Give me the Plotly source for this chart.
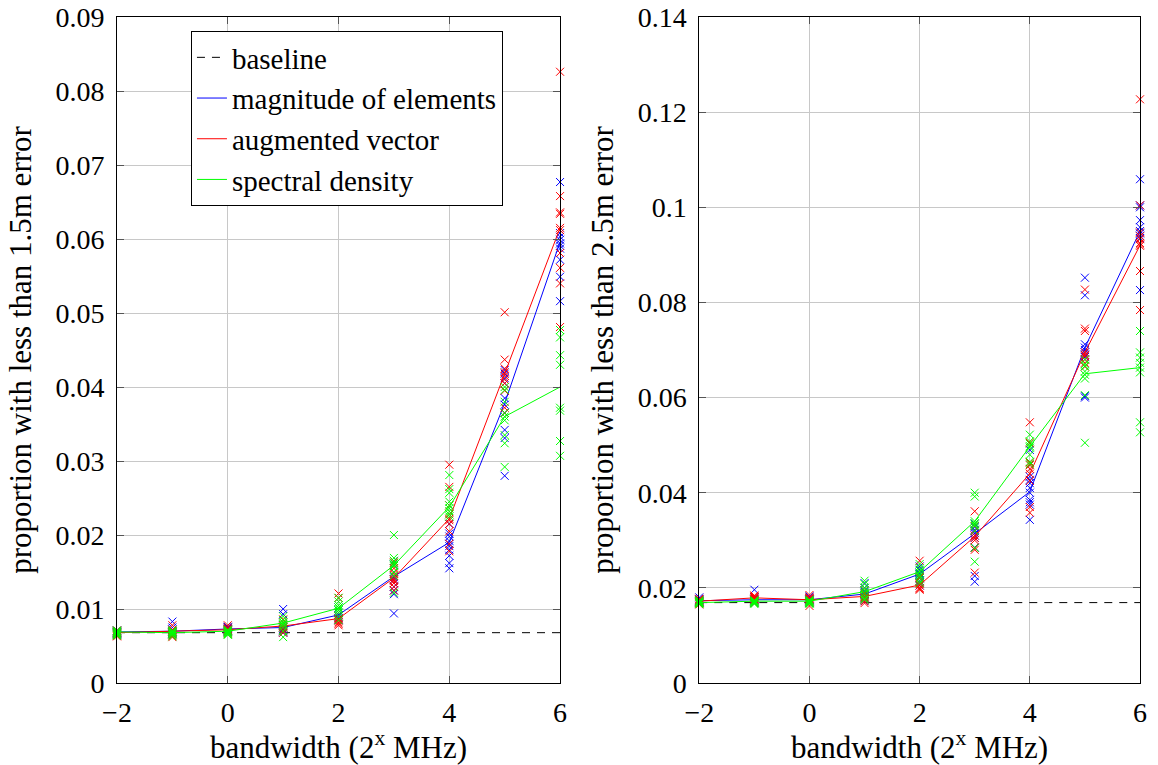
import plotly.graph_objects as go

# ---------------- data ----------------
X = [-2, -1, 0, 1, 2, 3, 4, 5, 6]

X_TICKS = [-2, 0, 2, 4, 6]
Y_TICKS_L = [0, 0.01, 0.02, 0.03, 0.04, 0.05, 0.06, 0.07, 0.08, 0.09]
Y_TICKS_R = [0, 0.02, 0.04, 0.06, 0.08, 0.1, 0.12, 0.14]

SERIES_NAMES = ["magnitude of elements", "augmented vector", "spectral density"]
BASELINE_NAME = "baseline"

BASE_L = 0.0068
BASE_R = 0.0169

# left panel (1.5 m error) - individual runs per bandwidth
L_BLUE_PTS = [
    [0.0068, 0.0066, 0.0070, 0.0067, 0.0069, 0.0068, 0.0065, 0.0071],
    [0.0083, 0.0075, 0.0070, 0.0068, 0.0066, 0.0072, 0.0069, 0.0067],
    [0.0074, 0.0072, 0.0070, 0.0075, 0.0071, 0.0073, 0.0069, 0.0076],
    [0.0100, 0.0093, 0.0075, 0.0072, 0.0070, 0.0068, 0.0073, 0.0071, 0.0078],
    [0.0102, 0.0098, 0.0095, 0.0090, 0.0088, 0.0092, 0.0086, 0.0085],
    [0.0165, 0.0160, 0.0150, 0.0143, 0.0140, 0.0135, 0.0130, 0.0125, 0.0120, 0.0094],
    [0.0215, 0.0202, 0.0198, 0.0192, 0.0188, 0.0185, 0.0180, 0.0172, 0.0162, 0.0155],
    [0.0423, 0.0418, 0.0412, 0.0405, 0.0385, 0.0376, 0.0365, 0.0342, 0.0331, 0.0280],
    [0.0677, 0.0608, 0.0603, 0.0599, 0.0594, 0.0591, 0.0587, 0.0572, 0.0549, 0.0516],
]
L_RED_PTS = [
    [0.0066, 0.0069, 0.0064, 0.0070, 0.0067, 0.0068, 0.0063, 0.0071],
    [0.0078, 0.0072, 0.0069, 0.0066, 0.0064, 0.0070, 0.0068, 0.0062],
    [0.0078, 0.0075, 0.0072, 0.0070, 0.0068, 0.0073, 0.0071, 0.0066],
    [0.0086, 0.0082, 0.0078, 0.0075, 0.0072, 0.0070, 0.0068, 0.0076],
    [0.0121, 0.0115, 0.0090, 0.0087, 0.0084, 0.0080, 0.0078, 0.0082, 0.0086],
    [0.0163, 0.0155, 0.0148, 0.0145, 0.0140, 0.0138, 0.0135, 0.0130, 0.0125],
    [0.0295, 0.0265, 0.0240, 0.0228, 0.0222, 0.0220, 0.0215, 0.0205, 0.0188, 0.0178],
    [0.0501, 0.0437, 0.0425, 0.0420, 0.0415, 0.0410, 0.0405, 0.0395, 0.0372, 0.0365],
    [0.0826, 0.0658, 0.0636, 0.0634, 0.0615, 0.0612, 0.0581, 0.0561, 0.0540, 0.0481],
]
L_GREEN_PTS = [
    [0.0069, 0.0067, 0.0070, 0.0065, 0.0068, 0.0066, 0.0071, 0.0064],
    [0.0071, 0.0069, 0.0067, 0.0065, 0.0068, 0.0070, 0.0066, 0.0063],
    [0.0070, 0.0068, 0.0066, 0.0071, 0.0069, 0.0067, 0.0065, 0.0072],
    [0.0090, 0.0085, 0.0082, 0.0080, 0.0078, 0.0075, 0.0070, 0.0062],
    [0.0115, 0.0110, 0.0105, 0.0102, 0.0100, 0.0098, 0.0095, 0.0090, 0.0085],
    [0.0200, 0.0169, 0.0165, 0.0162, 0.0160, 0.0158, 0.0150, 0.0145, 0.0122],
    [0.0281, 0.0262, 0.0257, 0.0245, 0.0240, 0.0236, 0.0232, 0.0228, 0.0225],
    [0.0400, 0.0396, 0.0380, 0.0365, 0.0360, 0.0355, 0.0335, 0.0324, 0.0292],
    [0.0477, 0.0467, 0.0443, 0.0430, 0.0372, 0.0368, 0.0327, 0.0307],
]
L_BLUE_MEAN = [0.0069, 0.0070, 0.0073, 0.0075, 0.0092, 0.0144, 0.0190, 0.0378, 0.0596]
L_RED_MEAN = [0.0068, 0.0070, 0.0072, 0.0077, 0.0087, 0.0142, 0.0222, 0.0418, 0.0615]
L_GREEN_MEAN = [0.0069, 0.0068, 0.0070, 0.0081, 0.0101, 0.0159, 0.0238, 0.0360, 0.0400]

# right panel (2.5 m error)
R_BLUE_PTS = [
    [0.0180, 0.0175, 0.0172, 0.0170, 0.0168, 0.0174, 0.0171, 0.0176],
    [0.0196, 0.0180, 0.0177, 0.0174, 0.0172, 0.0170, 0.0175, 0.0168],
    [0.0182, 0.0178, 0.0175, 0.0172, 0.0170, 0.0168, 0.0176, 0.0174],
    [0.0210, 0.0200, 0.0192, 0.0188, 0.0185, 0.0180, 0.0176, 0.0172, 0.0178],
    [0.0245, 0.0238, 0.0232, 0.0228, 0.0225, 0.0220, 0.0215, 0.0212, 0.0205, 0.0230],
    [0.0335, 0.0328, 0.0322, 0.0319, 0.0315, 0.0310, 0.0305, 0.0285, 0.0225, 0.0213],
    [0.0490, 0.0434, 0.0427, 0.0420, 0.0410, 0.0400, 0.0385, 0.0380, 0.0375, 0.0343],
    [0.0852, 0.0815, 0.0712, 0.0705, 0.0700, 0.0695, 0.0690, 0.0685, 0.0603, 0.0600],
    [0.1059, 0.1004, 0.1000, 0.0973, 0.0958, 0.0950, 0.0945, 0.0940, 0.0935, 0.0826],
]
R_RED_PTS = [
    [0.0177, 0.0173, 0.0170, 0.0168, 0.0165, 0.0172, 0.0175, 0.0169],
    [0.0184, 0.0180, 0.0178, 0.0175, 0.0172, 0.0168, 0.0176, 0.0182],
    [0.0185, 0.0180, 0.0176, 0.0172, 0.0168, 0.0162, 0.0178, 0.0174],
    [0.0195, 0.0188, 0.0182, 0.0178, 0.0175, 0.0172, 0.0168, 0.0180],
    [0.0257, 0.0222, 0.0210, 0.0205, 0.0200, 0.0196, 0.0198, 0.0208],
    [0.0361, 0.0330, 0.0320, 0.0310, 0.0305, 0.0300, 0.0284, 0.0280, 0.0232],
    [0.0548, 0.0505, 0.0463, 0.0458, 0.0450, 0.0440, 0.0425, 0.0370, 0.0358],
    [0.0827, 0.0745, 0.0740, 0.0695, 0.0690, 0.0687, 0.0680, 0.0673, 0.0665],
    [0.1227, 0.1004, 0.0947, 0.0939, 0.0933, 0.0925, 0.0922, 0.0919, 0.0866, 0.0784],
]
R_GREEN_PTS = [
    [0.0172, 0.0170, 0.0168, 0.0166, 0.0174, 0.0169, 0.0171, 0.0167],
    [0.0174, 0.0172, 0.0170, 0.0168, 0.0166, 0.0171, 0.0169, 0.0173],
    [0.0175, 0.0172, 0.0170, 0.0168, 0.0166, 0.0171, 0.0173, 0.0169],
    [0.0215, 0.0208, 0.0200, 0.0195, 0.0190, 0.0186, 0.0182, 0.0178, 0.0175],
    [0.0250, 0.0242, 0.0236, 0.0232, 0.0228, 0.0225, 0.0220, 0.0215, 0.0210],
    [0.0400, 0.0392, 0.0340, 0.0336, 0.0333, 0.0330, 0.0320, 0.0284, 0.0255],
    [0.0522, 0.0508, 0.0503, 0.0498, 0.0495, 0.0480, 0.0465, 0.0460],
    [0.0680, 0.0670, 0.0666, 0.0655, 0.0648, 0.0640, 0.0605, 0.0505],
    [0.0740, 0.0695, 0.0684, 0.0673, 0.0663, 0.0653, 0.0548, 0.0527],
]
R_BLUE_MEAN = [0.0173, 0.0175, 0.0175, 0.0187, 0.0229, 0.0314, 0.0402, 0.0705, 0.0950]
R_RED_MEAN = [0.0172, 0.0179, 0.0175, 0.0182, 0.0206, 0.0308, 0.0440, 0.0695, 0.0920]
R_GREEN_MEAN = [0.0169, 0.0172, 0.0172, 0.0192, 0.0234, 0.0340, 0.0497, 0.0650, 0.0663]

COLORS = ["#0000ff", "#ff0000", "#00ff00"]

FONT = "Liberation Serif, Times New Roman, serif"
FS_TICK = 28
FS_TITLE = 31
FS_LEGEND = 29

fig = go.Figure()


def add_panel(xa, ya, base, pts_list, mean_list, show_legend):
    fig.add_trace(go.Scatter(
        x=X, y=[base] * len(X), mode="lines", name=BASELINE_NAME,
        line=dict(color="black", width=1, dash="8px,7px"),
        showlegend=show_legend, xaxis=xa, yaxis=ya, hoverinfo="skip"))
    for name, color, pts, mean in zip(SERIES_NAMES, COLORS, pts_list, mean_list):
        xs, ys = [], []
        for xv, group in zip(X, pts):
            for v in group:
                xs.append(xv)
                ys.append(v)
        fig.add_trace(go.Scatter(
            x=xs, y=ys, mode="markers", showlegend=False, cliponaxis=False,
            marker=dict(symbol="x-thin-open", size=8, color=color,
                        line=dict(color=color, width=1)),
            xaxis=xa, yaxis=ya, hoverinfo="skip"))
        fig.add_trace(go.Scatter(
            x=X, y=mean, mode="lines", name=name, showlegend=show_legend,
            line=dict(color=color, width=1), xaxis=xa, yaxis=ya))


add_panel("x", "y", BASE_L, [L_BLUE_PTS, L_RED_PTS, L_GREEN_PTS],
          [L_BLUE_MEAN, L_RED_MEAN, L_GREEN_MEAN], True)
add_panel("x2", "y2", BASE_R, [R_BLUE_PTS, R_RED_PTS, R_GREEN_PTS],
          [R_BLUE_MEAN, R_RED_MEAN, R_GREEN_MEAN], False)

axis_common = dict(
    showgrid=True, gridcolor="#c8c8c8", gridwidth=1,
    showline=True, linecolor="black", linewidth=1, mirror="ticks",
    ticks="inside", ticklen=7, tickcolor="#555555", tickwidth=1,
    zeroline=False, automargin=False,
    tickfont=dict(family=FONT, size=FS_TICK, color="black"),
)

title_font = dict(family=FONT, size=FS_TITLE, color="black")
xtitle = dict(text="bandwidth (2<sup>x</sup> MHz)", font=title_font, standoff=9)

fig.update_layout(
    width=1158, height=765,
    margin=dict(l=117, r=18, t=17, b=82, autoexpand=False),
    paper_bgcolor="white", plot_bgcolor="white",
    font=dict(family=FONT, size=FS_TICK, color="black"),
    xaxis=dict(domain=[0, 0.4331], range=[-2, 6], tickvals=X_TICKS, title=xtitle,
               anchor="y", ticklabelstandoff=4, **axis_common),
    yaxis=dict(domain=[0, 1], range=[0, 0.09], tickvals=Y_TICKS_L, anchor="x",
               ticklabelstandoff=6,
               title=dict(text="proportion with less than 1.5m error",
                          font=title_font, standoff=14),
               **axis_common),
    xaxis2=dict(domain=[0.5692, 1], range=[-2, 6], tickvals=X_TICKS, title=xtitle,
                anchor="y2", ticklabelstandoff=4, **axis_common),
    yaxis2=dict(domain=[0, 1], range=[0, 0.14], tickvals=Y_TICKS_R, anchor="x2",
                ticklabelstandoff=6,
                title=dict(text="proportion with less than 2.5m error",
                           font=title_font, standoff=14),
                **axis_common),
    legend=dict(x=0.0723, y=0.979, xanchor="left", yanchor="top",
                bgcolor="white", bordercolor="black", borderwidth=1,
                font=dict(family=FONT, size=FS_LEGEND, color="black"),
                tracegroupgap=0, traceorder="normal"),
    showlegend=True,
)

fig.write_html("out.html")
